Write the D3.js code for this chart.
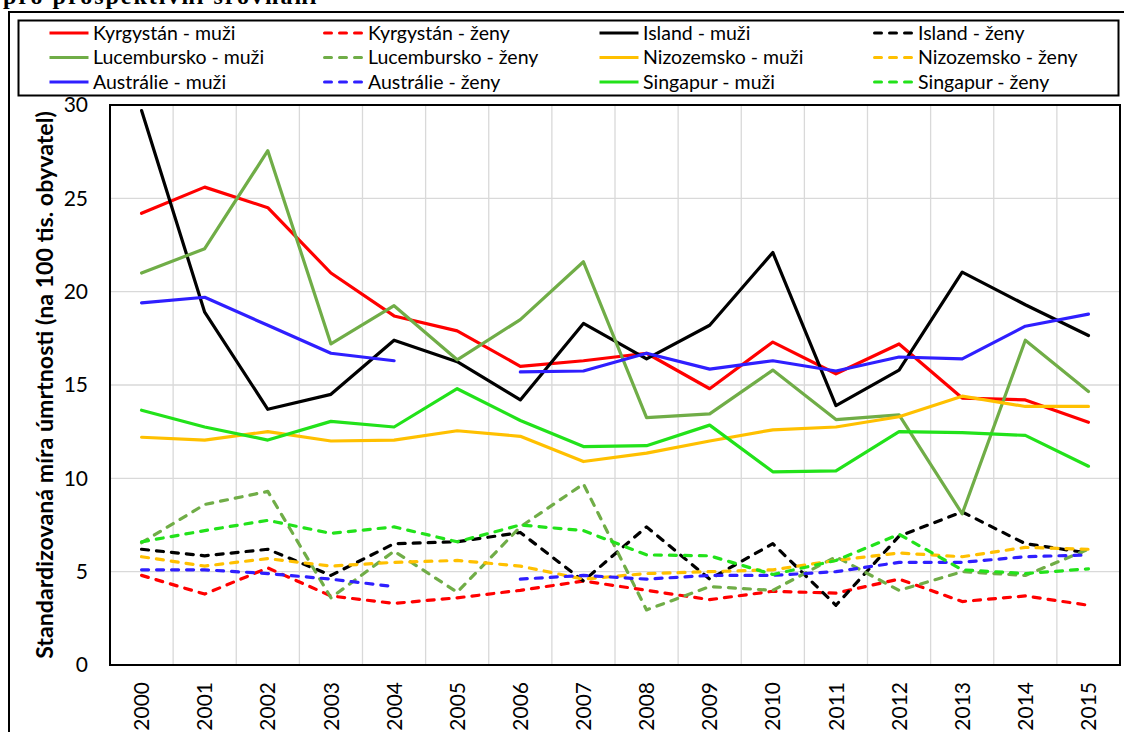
<!DOCTYPE html>
<html><head><meta charset="utf-8">
<script src="https://cdn.jsdelivr.net/npm/d3@7"></script>
<style>
html,body{margin:0;padding:0;background:#fff;overflow:hidden;}
svg{display:block;}
</style></head>
<body>
<svg id="chart" width="1124" height="732"></svg>
<script>
const years = ["2000","2001","2002","2003","2004","2005","2006","2007","2008","2009","2010","2011","2012","2013","2014","2015"];
const yTicks = [0,5,10,15,20,25,30];

const kyrgyzstanMuzi  = [24.2,25.6,24.5,21.0,18.7,17.9,16.0,16.3,16.7,14.8,17.3,15.6,17.2,14.3,14.2,13.0];
const kyrgyzstanZeny  = [4.8,3.8,5.2,3.7,3.3,3.6,4.0,4.5,4.0,3.5,3.95,3.85,4.6,3.4,3.7,3.2];
const islandMuzi      = [29.7,18.9,13.7,14.5,17.4,16.25,14.2,18.3,16.4,18.2,22.1,13.9,15.8,21.05,19.3,17.65];
const islandZeny      = [6.2,5.85,6.2,4.8,6.5,6.6,7.1,4.5,7.4,4.6,6.5,3.2,6.9,8.2,6.5,6.0];
const lucemburskoMuzi = [21.0,22.3,27.55,17.2,19.25,16.35,18.5,21.6,13.25,13.45,15.8,13.15,13.4,8.1,17.4,14.65];
const lucemburskoZeny = [6.55,8.6,9.3,3.6,6.1,3.9,7.4,9.7,2.95,4.2,4.0,5.8,4.0,5.0,4.8,6.2];
const nizozemskoMuzi  = [12.2,12.05,12.5,12.0,12.05,12.55,12.25,10.9,11.35,12.0,12.6,12.75,13.3,14.4,13.85,13.85];
const nizozemskoZeny  = [5.8,5.3,5.7,5.3,5.5,5.6,5.3,4.6,4.9,5.0,5.1,5.6,6.0,5.8,6.3,6.2];
const australieMuzi   = [19.4,19.7,18.2,16.7,16.3,null,15.7,15.75,16.7,15.85,16.3,15.75,16.5,16.4,18.15,18.8];
const australieZeny   = [5.1,5.1,4.9,4.6,4.2,null,4.6,4.8,4.6,4.8,4.8,5.0,5.5,5.5,5.8,5.9];
const singapurMuzi    = [13.65,12.75,12.05,13.05,12.75,14.8,13.1,11.7,11.75,12.85,10.35,10.4,12.5,12.45,12.3,10.65];
const singapurZeny    = [6.6,7.2,7.75,7.05,7.4,6.6,7.5,7.2,5.9,5.85,4.85,5.6,7.0,5.1,4.9,5.15];

const seriesNames = ["Kyrgystán - muži","Kyrgystán - ženy","Island - muži","Island - ženy",
  "Lucembursko - muži","Lucembursko - ženy","Nizozemsko - muži","Nizozemsko - ženy",
  "Austrálie - muži","Austrálie - ženy","Singapur - muži","Singapur - ženy"];
const seriesValues = [kyrgyzstanMuzi,kyrgyzstanZeny,islandMuzi,islandZeny,lucemburskoMuzi,lucemburskoZeny,
  nizozemskoMuzi,nizozemskoZeny,australieMuzi,australieZeny,singapurMuzi,singapurZeny];
const seriesColors = ["#FF0000","#FF0000","#000000","#000000","#70AD47","#70AD47",
  "#FFC000","#FFC000","#2F1FFF","#2F1FFF","#22E21A","#22E21A"];
const seriesDashed = [false,true,false,true,false,true,false,true,false,true,false,true];

const FONT = "Lato, 'Open Sans', sans-serif";
const svg = d3.select("#chart");
const L = 110, R = 1120, T = 105, B = 665;

const x = d3.scaleBand().domain(years).range([L, R]);
const y = d3.scaleLinear().domain([0, 30]).range([B, T]);
const cx = d => x(d) + x.bandwidth() / 2;

// partial heading text, cut by the top edge as in the source page
svg.append("text").attr("x", 3).attr("y", 4)
  .attr("font-family", "'Liberation Serif', 'DejaVu Serif', serif").attr("font-weight", "bold")
  .attr("font-size", 24).attr("letter-spacing", 2).attr("fill", "#000").text("pro prospektivní srovnání");

// outer chart frame
svg.append("rect").attr("x", 9).attr("y", 12).attr("width", 1124).attr("height", 740)
  .attr("fill", "#fff").attr("stroke", "#000").attr("stroke-width", 2);

// legend box
svg.append("rect").attr("x", 18.5).attr("y", 20.5).attr("width", 1100).attr("height", 75)
  .attr("fill", "#fff").attr("stroke", "#000").attr("stroke-width", 2);

const legCols = [48, 323, 598, 873];
const legRows = [33, 57.5, 82];
seriesNames.forEach((name, i) => {
  const col = i % 4, row = Math.floor(i / 4);
  const lx = legCols[col], ly = legRows[row];
  const g = svg.append("g");
  g.append("line").attr("x1", lx + 1.5).attr("x2", lx + 40.5).attr("y1", ly).attr("y2", ly)
    .attr("stroke", seriesColors[i]).attr("stroke-width", 3)
    .attr("stroke-linecap", seriesDashed[i] ? "round" : "butt")
    .attr("stroke-dasharray", seriesDashed[i] ? "7,8" : null);
  g.append("text").attr("x", lx + 45).attr("y", ly).attr("dy", "0.35em")
    .attr("font-family", FONT).attr("font-size", 19.5).attr("fill", "#000").text(name);
});

// horizontal gridlines
svg.append("g").selectAll("line").data(yTicks.filter(t => t > 0 && t < 30)).join("line")
  .attr("x1", L).attr("x2", R).attr("y1", d => y(d)).attr("y2", d => y(d))
  .attr("stroke", "#D9D9D9").attr("stroke-width", 1.3);
// vertical gridlines at category boundaries
svg.append("g").selectAll("line").data(years.slice(1)).join("line")
  .attr("x1", d => x(d)).attr("x2", d => x(d)).attr("y1", T).attr("y2", B)
  .attr("stroke", "#D9D9D9").attr("stroke-width", 1.3);

// plot border
svg.append("rect").attr("x", L).attr("y", T).attr("width", R - L).attr("height", B - T)
  .attr("fill", "none").attr("stroke", "#000").attr("stroke-width", 2);

// y axis labels
const yAxis = d3.axisLeft(y).tickValues(yTicks).tickSize(0).tickPadding(22);
const yg = svg.append("g").attr("transform", `translate(${L},0)`).call(yAxis);
yg.select(".domain").remove();
yg.selectAll("text").attr("font-family", FONT).attr("font-size", 21).attr("fill", "#000");

// x axis labels
const xAxis = d3.axisBottom(x).tickSize(0).tickPadding(0);
const xg = svg.append("g").attr("transform", `translate(0,${B})`).call(xAxis);
xg.select(".domain").remove();
xg.selectAll("text").attr("font-family", FONT).attr("font-size", 21).attr("fill", "#000")
  .attr("transform", "rotate(-90)").attr("text-anchor", "end")
  .attr("x", -17).attr("y", 0).attr("dy", "0.36em");

// y axis title
const title = svg.append("text")
  .attr("transform", `translate(53,${(T + B) / 2}) rotate(-90)`)
  .attr("text-anchor", "middle").attr("font-family", FONT).attr("font-weight", "bold")
  .attr("font-size", 20).attr("fill", "#000")
  .text("Standardizovaná míra úmrtnosti (na 100 tis. obyvatel)");
const tl = title.node().getComputedTextLength();
title.attr("font-size", 20 * 548 / tl);

// series lines
const line = d3.line().defined(d => d.v != null).x(d => cx(d.year)).y(d => y(d.v));
seriesValues.forEach((vals, i) => {
  const data = years.map((yr, j) => ({ year: yr, v: vals[j] }));
  svg.append("path").datum(data).attr("d", line)
    .attr("fill", "none").attr("stroke", seriesColors[i]).attr("stroke-width", 3.2)
    .attr("stroke-linejoin", "round")
    .attr("stroke-linecap", "round")
    .attr("stroke-dasharray", seriesDashed[i] ? "7,8" : null);
});
</script>
</body></html>
